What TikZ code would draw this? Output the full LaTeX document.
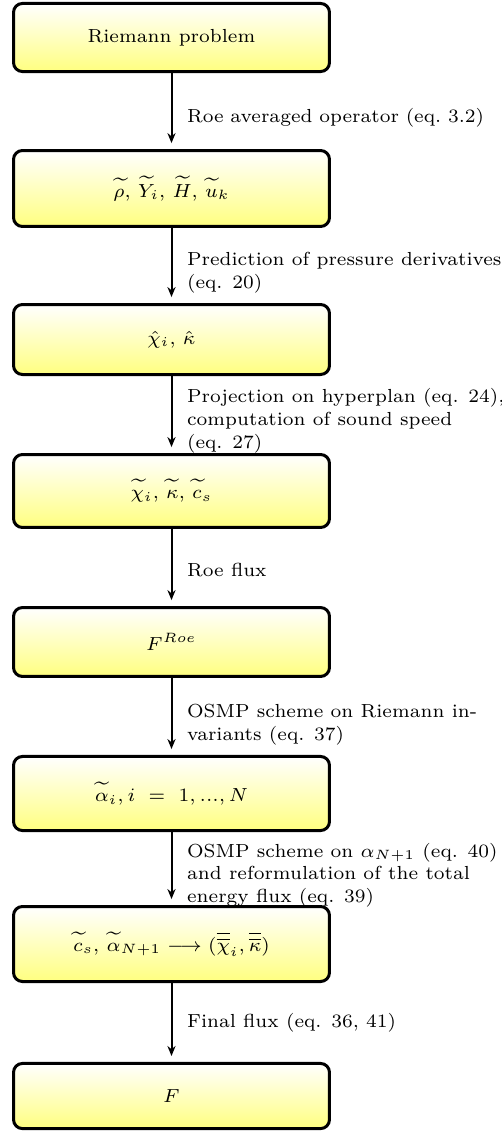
\documentclass[tikz,border=0pt]{standalone}
\usetikzlibrary{arrows.meta}
\begin{document}
\begin{tikzpicture}[x=0.37pt,y=-0.37pt,
  box/.style={draw, line width=1.11pt, rounded corners=3.3pt,
    top color=white, bottom color=yellow!50,
    minimum width=116.9pt, inner sep=0pt,
    font=\fontsize{7}{8.4}\selectfont},
  flow/.style={-{Stealth[length=3.7pt,width=3pt]}, line width=0.74pt, shorten >=2.2pt},
  lab/.style={anchor=west, inner sep=0pt, xshift=5.4pt, align=left,
    font=\fontsize{7}{8.4}\selectfont}]
\useasboundingbox (0,0) rectangle (502,1131);
\node[box, minimum height=25.2pt]  (b1) at (171.5,37.5) {Riemann problem};
\node[box, minimum height=28.1pt]  (b2) at (171.5,188.5) {$\widetilde{\rho}$, $\widetilde{Y}_i$, $\widetilde{H}$, $\widetilde{u}_k$};
\node[box, minimum height=25.9pt]  (b3) at (171.5,339.5) {$\hat{\chi}_i$, $\hat{\kappa}$};
\node[box, minimum height=27.0pt]  (b4) at (171.5,491) {$\widetilde{\chi}_i$, $\widetilde{\kappa}$, $\widetilde{c}_s$};
\node[box, minimum height=25.5pt]  (b5) at (171.5,642) {$F^{Roe}$};
\node[box, minimum height=27.4pt]  (b6) at (171.5,793.5) {$\widetilde{\alpha}_i, i\ =\ 1,...,N$};
\node[box, minimum height=27.75pt] (b7) at (171.5,944) {$\widetilde{c}_s$, $\widetilde{\alpha}_{N+1} \longrightarrow (\overline{\overline{\chi}}_i,\overline{\overline{\kappa}})$};
\node[box, minimum height=24.1pt]  (b8) at (171.5,1096) {$F$};
\draw[flow] (b1) -- node[lab, yshift=-2.6pt]{\spaceskip=2.3pt plus 1fil\xspaceskip=2.3pt plus 1fil\makebox[109.9pt][s]{Roe averaged operator (eq. 3.2)}} (b2);
\draw[flow] (b2) -- node[lab, yshift=-2.6pt]{Prediction of pressure derivatives\\(eq. 20)} (b3);
\draw[flow] (b3) -- node[lab, yshift=-2.3pt]{Projection on hyperplan (eq. 24),\\computation of sound speed\\(eq. 27)} (b4);
\draw[flow] (b4) -- node[lab, yshift=-1.1pt]{Roe flux} (b5);
\draw[flow] (b5) -- node[lab, yshift=-3pt]{OSMP scheme on Riemann in-\\variants (eq. 37)} (b6);
\draw[flow] (b6) -- node[lab, yshift=-2.4pt]{OSMP scheme on $\alpha_{N+1}$ (eq. 40)\\and reformulation of the total\\energy flux (eq. 39)} (b7);
\draw[flow] (b7) -- node[lab]{Final flux (eq. 36, 41)} (b8);
\end{tikzpicture}
\end{document}
